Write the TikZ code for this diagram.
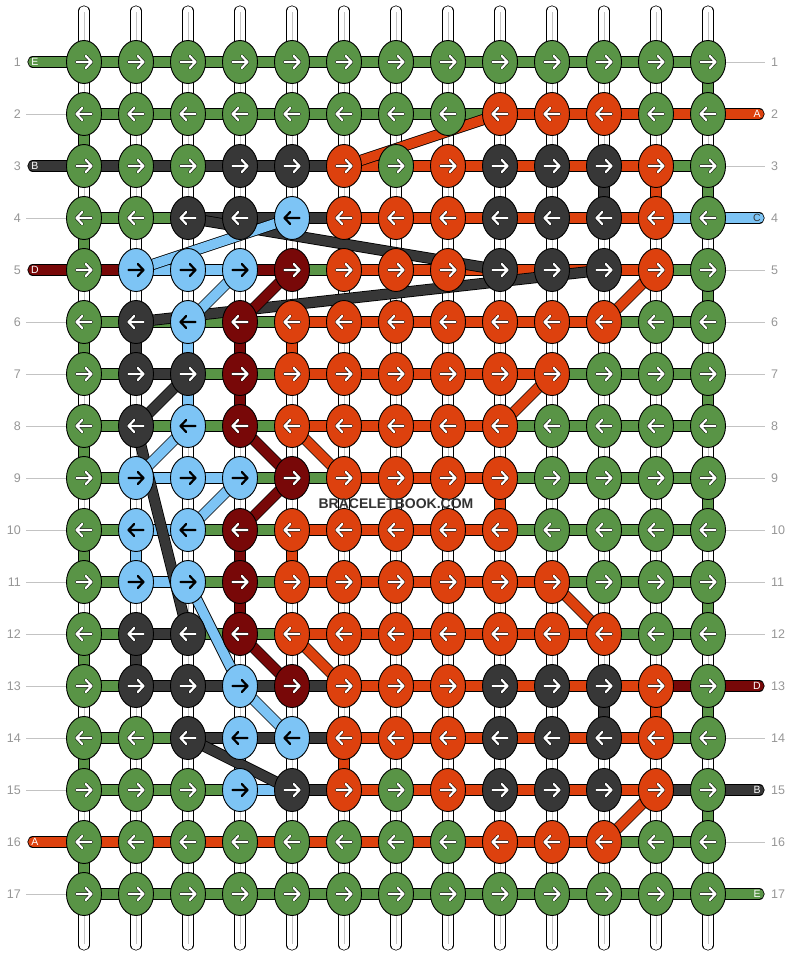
\documentclass[tikz,border=0pt]{standalone}
\usepackage{fontspec}
\setmainfont{Liberation Sans}
\usetikzlibrary{shapes.geometric}
\definecolor{cG}{RGB}{89,148,70}
\definecolor{cO}{RGB}{221,65,14}
\definecolor{cK}{RGB}{55,55,55}
\definecolor{cL}{RGB}{125,196,245}
\definecolor{cR}{RGB}{120,8,8}
\colorlet{aG}{white}\colorlet{aO}{white}\colorlet{aK}{white}\colorlet{aR}{white}\colorlet{aL}{black}
\colorlet{oG}{black}\colorlet{oO}{black}\colorlet{oK}{black}\colorlet{oR}{black}\colorlet{oL}{cL}
\definecolor{numgray}{RGB}{150,150,150}
\definecolor{linegray}{RGB}{195,195,195}
\definecolor{wmark}{RGB}{51,51,51}
\pgfdeclarelayer{bg}\pgfdeclarelayer{warp}\pgfdeclarelayer{thread}
\pgfsetlayers{bg,warp,thread,main}
\tikzset{
  arrowpath/.style 2 args={draw=#1, line width=#2, line cap=round, line join=round},
  knot/.style 2 args={ellipse, draw=black, line width=0.9pt, fill=c#1,
    minimum width=35pt, minimum height=43pt, inner sep=0pt,
    path picture={
      \foreach \aw/\ac in {3.2pt/o#1,2.2pt/a#1}{
      \draw[arrowpath={\ac}{\aw}]
        ([xshift={-7.5pt*(#2)}]path picture bounding box.center) --
        ([xshift={7.5pt*(#2)}]path picture bounding box.center)
        ([xshift={1.8pt*(#2)},yshift=6pt]path picture bounding box.center) --
        ([xshift={7.5pt*(#2)}]path picture bounding box.center) --
        ([xshift={1.8pt*(#2)},yshift=-6pt]path picture bounding box.center);}}},
  th/.style={draw=black, line width=0.8pt, double=#1, double distance=9.6pt},
  thend/.style={th=#1, line cap=round},
  warpst/.style={draw=black, line width=0.75pt, double=white, double distance=9.6pt, line cap=round},
  warpmid/.style={draw=linegray, line width=0.9pt},
  glab/.style={draw=linegray, line width=0.9pt},
  numlab/.style={text=numgray, inner sep=0pt, font=\fontsize{12.5}{13}\selectfont},
  endlab/.style={text=white, inner sep=0pt, font=\fontsize{10.5}{10.5}\selectfont},
}
\newcommand\krow[3]{%
  \foreach \t [count=\c] in {#3}{%
    \node[knot={\t}{#2}] (k#1-\c) at ({84+52*(\c-1)},{62+52*(#1-1)}) {};}}
\newcommand\hrow[2]{%
  \foreach \s [count=\c] in {#2}{%
    \pgfmathtruncatemacro\n{\c+1}%
    \draw[th=c\s] (k#1-\c.center) -- (k#1-\n.center);}}
\newcommand\vseg[3]{%
  \pgfmathtruncatemacro\nr{#2+1}%
  \draw[th=c#3] (k#2-#1.center) -- (k\nr-#1.center);}
\newcommand\dseg[3]{\draw[th=c#1] (k#2.center) -- (k#3.center);}
\begin{document}
\begin{tikzpicture}[x=1pt,y=-1pt]
\begin{pgfonlayer}{bg}
\fill[white] (0,0) rectangle (792,956);
\end{pgfonlayer}
\useasboundingbox (0,0) rectangle (792,956);
% knots
\krow{1}{1}{G,G,G,G,G,G,G,G,G,G,G,G,G}
\krow{2}{-1}{G,G,G,G,G,G,G,G,O,O,O,G,G}
\krow{3}{1}{G,G,G,K,K,O,G,O,K,K,K,O,G}
\krow{4}{-1}{G,G,K,K,L,O,O,O,K,K,K,O,G}
\krow{5}{1}{G,L,L,L,R,O,O,O,K,K,K,O,G}
\krow{6}{-1}{G,K,L,R,O,O,O,O,O,O,O,G,G}
\krow{7}{1}{G,K,K,R,O,O,O,O,O,O,G,G,G}
\krow{8}{-1}{G,K,L,R,O,O,O,O,O,G,G,G,G}
\krow{9}{1}{G,L,L,L,R,O,O,O,O,G,G,G,G}
\krow{10}{-1}{G,L,L,R,O,O,O,O,O,G,G,G,G}
\krow{11}{1}{G,L,L,R,O,O,O,O,O,O,G,G,G}
\krow{12}{-1}{G,K,K,R,O,O,O,O,O,O,O,G,G}
\krow{13}{1}{G,K,K,L,R,O,O,O,K,K,K,O,G}
\krow{14}{-1}{G,G,K,L,L,O,O,O,K,K,K,O,G}
\krow{15}{1}{G,G,G,L,K,O,G,O,K,K,K,O,G}
\krow{16}{-1}{G,G,G,G,G,G,G,G,O,O,O,G,G}
\krow{17}{1}{G,G,G,G,G,G,G,G,G,G,G,G,G}
% watermark
\node[text=wmark, inner sep=0pt, font=\bfseries\fontsize{14}{14}\selectfont] (wm) at (396,504) {BRACELETBOOK.COM};
% row numbers
\foreach \r in {1,...,17}{
  \node[numlab, anchor=east] (nl\r) at (21,{62+52*(\r-1)}) {\r};
  \node[numlab, anchor=west] (nr\r) at (771,{62+52*(\r-1)}) {\r};
}
% thread end coordinates and letters
\foreach \r in {1,...,17}{
  \coordinate (el\r) at (33,{62+52*(\r-1)});
  \coordinate (er\r) at (759,{62+52*(\r-1)});
  \coordinate (gl\r) at (26,{62+52*(\r-1)});
  \coordinate (gr\r) at (765,{62+52*(\r-1)});
}
\node[endlab] (tE1) at (35,62) {E};
\node[endlab] (tB1) at (35,166) {B};
\node[endlab] (tD1) at (35,270) {D};
\node[endlab] (tA1) at (35,842) {A};
\node[endlab] (tA2) at (757,114) {A};
\node[endlab, text=cK] (tC2) at (757,218) {C};
\node[endlab] (tD2) at (757,686) {D};
\node[endlab] (tB2) at (757,790) {B};
\node[endlab] (tE2) at (757,894) {E};
% warp strands
\begin{pgfonlayer}{warp}
\foreach \c in {1,...,13}{
  \coordinate (wt\c) at ({84+52*(\c-1)},11);
  \coordinate (wb\c) at ({84+52*(\c-1)},945);
  \coordinate (mt\c) at ({84.6+52*(\c-1)},12);
  \coordinate (mb\c) at ({84.6+52*(\c-1)},944);
  \draw[warpst] (wt\c) -- (wb\c);
  \draw[warpmid] (mt\c) -- (mb\c);
}
\end{pgfonlayer}
\begin{pgfonlayer}{thread}
% grey label lines
\foreach \r in {2,4,6,7,8,9,10,11,12,13,14,15,17}{\draw[glab] (gl\r) -- (k\r-1.center);}
\foreach \r in {1,3,5,6,7,8,9,10,11,12,14,16}{\draw[glab] (k\r-13.center) -- (gr\r);}
% thread ends
\draw[thend=cG] (el1) -- (k1-1.center);
\draw[thend=cK] (el3) -- (k3-1.center);
\draw[thend=cR] (el5) -- (k5-1.center);
\draw[thend=cO] (el16) -- (k16-1.center);
\draw[thend=cO] (k2-13.center) -- (er2);
\draw[thend=cL] (k4-13.center) -- (er4);
\draw[thend=cR] (k13-13.center) -- (er13);
\draw[thend=cK] (k15-13.center) -- (er15);
\draw[thend=cG] (k17-13.center) -- (er17);
% horizontal segments
\hrow{1}{G,G,G,G,G,G,G,G,G,G,G,G}
\hrow{2}{G,G,G,G,G,G,G,G,O,O,O,O}
\hrow{3}{K,K,K,K,K,O,O,O,O,O,O,G}
\hrow{4}{G,G,K,K,K,O,O,O,O,O,O,L}
\hrow{5}{R,L,L,R,G,O,O,O,O,O,O,G}
\hrow{6}{G,G,G,G,O,O,O,O,O,O,G,G}
\hrow{7}{G,K,G,G,O,O,O,O,O,G,G,G}
\hrow{8}{G,G,G,G,O,O,O,O,G,G,G,G}
\hrow{9}{G,L,L,G,G,O,O,O,G,G,G,G}
\hrow{10}{G,L,G,G,O,O,O,O,G,G,G,G}
\hrow{11}{G,L,G,G,O,O,O,O,O,G,G,G}
\hrow{12}{G,K,G,G,O,O,O,O,O,O,G,G}
\hrow{13}{G,K,K,K,K,O,O,O,O,O,O,R}
\hrow{14}{G,G,K,K,K,O,O,O,O,O,O,G}
\hrow{15}{G,G,G,L,K,O,O,O,O,O,O,K}
\hrow{16}{O,O,O,O,O,O,O,O,O,O,G,G}
\hrow{17}{G,G,G,G,G,G,G,G,G,G,G,G}
% vertical segments
\foreach \r in {2,4,6,8,10,12,14,16}{\vseg{1}{\r}{G}}
\foreach \r in {1,3,5,7,9,11,13,15}{\vseg{13}{\r}{G}}
\vseg{6}{4}{O}\vseg{6}{14}{O}
\vseg{11}{3}{K}\vseg{11}{13}{K}
\vseg{12}{3}{O}\vseg{12}{13}{O}
\vseg{2}{6}{K}\vseg{2}{10}{L}\vseg{2}{12}{K}
\vseg{3}{6}{L}\vseg{3}{7}{L}
\vseg{4}{6}{R}\vseg{4}{7}{R}\vseg{4}{10}{R}\vseg{4}{11}{R}
\vseg{4}{14}{L}
\vseg{5}{6}{O}\vseg{5}{10}{O}
\vseg{9}{9}{O}
% diagonal segments
\dseg{O}{2-9}{3-6}
\dseg{K}{4-3}{5-9}
\dseg{K}{5-11}{6-2}
\dseg{L}{4-5}{5-2}
\dseg{L}{5-4}{6-3}
\dseg{R}{5-5}{6-4}
\dseg{O}{5-12}{6-11}
\dseg{O}{7-10}{8-9}
\dseg{K}{7-3}{8-2}
\dseg{K}{8-2}{12-3}
\dseg{L}{8-3}{9-2}
\dseg{R}{8-4}{9-5}
\dseg{O}{8-5}{9-6}
\dseg{L}{9-4}{10-3}
\dseg{R}{9-5}{10-4}
\dseg{L}{11-3}{13-4}
\dseg{O}{11-10}{12-11}
\dseg{R}{12-4}{13-5}
\dseg{O}{12-5}{13-6}
\dseg{L}{13-4}{14-5}
\dseg{K}{14-3}{15-5}
\dseg{O}{15-12}{16-11}
\end{pgfonlayer}
\end{tikzpicture}
\end{document}
